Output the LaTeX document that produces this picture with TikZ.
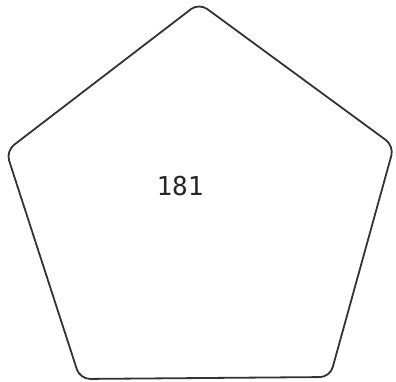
\documentclass[tikz,border=0pt]{standalone}
\usepackage{fontspec}
\newfontfamily\monofont{DejaVu Sans Mono}
\begin{document}
\begin{tikzpicture}[x=1pt,y=-1pt,
  pent/.style={draw=black!80,line width=1.8pt,rounded corners=10pt,line join=round}]
\useasboundingbox (0,0) rectangle (396,382);
\coordinate (t) at (199,3);
\coordinate (r) at (394,146);
\coordinate (br) at (330,377);
\coordinate (bl) at (80,379);
\coordinate (l) at (6,151);
\draw[pent] (t) -- (r) -- (br) -- (bl) -- (l) -- cycle;
\node[font=\monofont\fontsize{26}{30}\selectfont,text=black!85] (lbl) at (180,186) {181};
\end{tikzpicture}
\end{document}
